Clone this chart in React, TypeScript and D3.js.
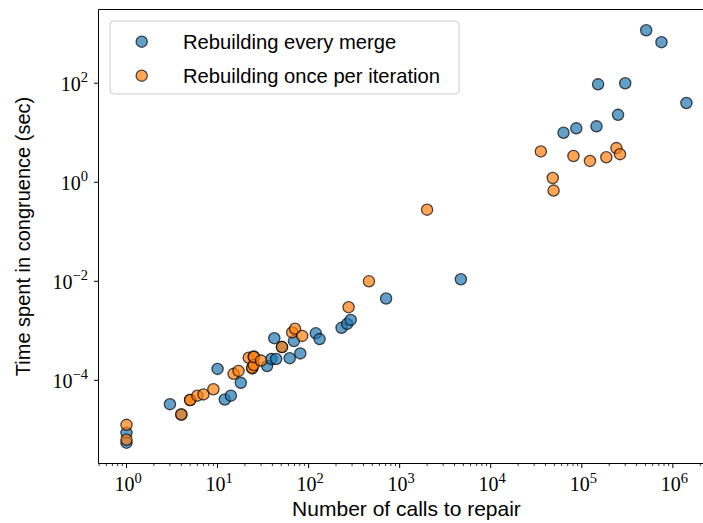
import React from 'react';
import * as d3 from 'd3';

// Series 1: Rebuilding every merge
const everyMergeCalls = [1, 1, 3, 4, 10, 12, 14, 18, 35, 39, 44, 42, 51, 62, 69, 81, 120, 132, 230, 265, 290, 710, 4700, 63000, 87000, 145000, 151000, 250000, 300000, 510000, 750000, 1410000];
const everyMergeTime = [8.7e-6, 5.5e-6, 3.3e-5, 2.04e-5, 1.7e-4, 4.1e-5, 4.9e-5, 8.9e-5, 1.95e-4, 2.7e-4, 2.7e-4, 7.1e-4, 4.7e-4, 2.8e-4, 6.2e-4, 3.5e-4, 8.9e-4, 6.8e-4, 1.15e-3, 1.38e-3, 1.66e-3, 4.5e-3, 0.011, 10, 12.3, 13.5, 95, 23, 100, 1175, 676, 40];

// Series 2: Rebuilding once per iteration
const oncePerIterCalls = [1, 1, 4, 5, 5, 6, 7, 9, 15, 17, 22, 24, 24, 25, 25, 25, 30, 51, 66, 71, 85, 275, 460, 2000, 35500, 48000, 49000, 81000, 123000, 186000, 240000, 263000];
const oncePerIterTime = [1.26e-5, 6.3e-6, 2.04e-5, 4.0e-5, 4.0e-5, 4.9e-5, 5.2e-5, 6.6e-5, 1.35e-4, 1.55e-4, 2.86e-4, 1.74e-4, 1.8e-4, 3.03e-4, 2.04e-4, 2.95e-4, 2.5e-4, 4.7e-4, 9.3e-4, 1.1e-3, 7.9e-4, 3.0e-3, 0.010, 0.28, 4.2, 1.22, 0.68, 3.4, 2.7, 3.2, 4.9, 3.7];

const seriesNames = ['Rebuilding every merge', 'Rebuilding once per iteration'];
const seriesColors = ['#1f77b4', '#ff7f0e'];
const xTickExponents = [0, 1, 2, 3, 4, 5, 6];
const yTickExponents = [-4, -2, 0, 2];
const xLabel = 'Number of calls to repair';
const yLabel = 'Time spent in congruence (sec)';

export default function App() {
  const W = 703, H = 523;
  const left = 98.5, top = 9.5, bottom = 463.5, right = 714.5;
  const x = d3.scaleLog().domain([10 ** -0.3075, 10 ** 6.4575]).range([left, right]);
  const y = d3.scaleLog().domain([10 ** -5.68, 10 ** 3.49]).range([bottom, top]);

  const xMinor = x.ticks().filter((t) => {
    const l = Math.log10(t);
    return Math.abs(l - Math.round(l)) > 1e-6;
  }).filter((t) => x(t) >= left - 0.5 && x(t) <= W);

  const series = [
    { name: seriesNames[0], color: seriesColors[0], pts: everyMergeCalls.map((c, i) => [c, everyMergeTime[i]]) },
    { name: seriesNames[1], color: seriesColors[1], pts: oncePerIterCalls.map((c, i) => [c, oncePerIterTime[i]]) },
  ];

  const serif = '"Liberation Serif", "DejaVu Serif", serif';
  const sans = '"Liberation Sans", Arial, sans-serif';
  const r = 5.6;

  const fmtExp = (e: number) => (e < 0 ? '\u2212' + Math.abs(e) : String(e));

  return (
    <svg width={W} height={H} style={{ position: 'absolute', left: 0, top: 0, display: 'block', background: '#fff' }}>
      <rect x={0} y={0} width={W} height={H} fill="#fff" />
      {/* points */}
      {series.map((s, si) => (
        <g key={si}>
          {s.pts.map((p, i) => (
            <circle key={i} cx={x(p[0])} cy={y(p[1])} r={r} fill={s.color} fillOpacity={0.7}
              stroke="#000" strokeOpacity={0.7} strokeWidth={1.3} />
          ))}
        </g>
      ))}
      {/* spines */}
      <line x1={left} x2={right} y1={top} y2={top} stroke="#000" strokeWidth={1} />
      <line x1={left} x2={right} y1={bottom} y2={bottom} stroke="#000" strokeWidth={1} />
      <line x1={left} x2={left} y1={top} y2={bottom} stroke="#000" strokeWidth={1} />
      <line x1={right} x2={right} y1={top} y2={bottom} stroke="#000" strokeWidth={1} />
      {/* x ticks */}
      {xMinor.map((t, i) => (
        <line key={'xm' + i} x1={x(t)} x2={x(t)} y1={bottom} y2={bottom + 2.5} stroke="#000" strokeWidth={0.8} />
      ))}
      {xTickExponents.map((e) => {
        const px = x(10 ** e);
        return (
          <g key={'xt' + e}>
            <line x1={px} x2={px} y1={bottom} y2={bottom + 4.5} stroke="#000" strokeWidth={1} />
            <text x={px + 1.5} y={491} textAnchor="middle" fontFamily={serif} fontSize={20} fill="#000">
              10<tspan dy={-8.5} fontSize={14.5}>{fmtExp(e)}</tspan>
            </text>
          </g>
        );
      })}
      {/* y ticks */}
      {yTickExponents.map((e) => {
        const py = y(10 ** e);
        return (
          <g key={'yt' + e}>
            <line x1={left} x2={left - 4.5} y1={py} y2={py} stroke="#000" strokeWidth={1} />
            <text x={88} y={py + 7.5} textAnchor="end" fontFamily={serif} fontSize={20} fill="#000">
              10<tspan dy={-8.5} fontSize={14.5}>{fmtExp(e)}</tspan>
            </text>
          </g>
        );
      })}
      {/* axis labels */}
      <text x={(left + right) / 2} y={516} textAnchor="middle" fontFamily={sans} fontSize={21} fill="#000">{xLabel}</text>
      <text transform={`translate(30, ${(top + bottom) / 2}) rotate(-90)`} textAnchor="middle" fontFamily={sans} fontSize={20} fill="#000">{yLabel}</text>
      {/* legend */}
      <rect x={110} y={21} width={349} height={73} rx={4} fill="#fff" fillOpacity={0.8} stroke="#cccccc" strokeWidth={1} />
      {series.map((s, i) => (
        <g key={'lg' + i}>
          <circle cx={141.7} cy={41.7 + i * 34} r={r} fill={s.color} fillOpacity={0.7} stroke="#000" strokeOpacity={0.7} strokeWidth={1.3} />
          <text x={183} y={48.5 + i * 34} fontFamily={sans} fontSize={20.2} fill="#000">{s.name}</text>
        </g>
      ))}
    </svg>
  );
}
